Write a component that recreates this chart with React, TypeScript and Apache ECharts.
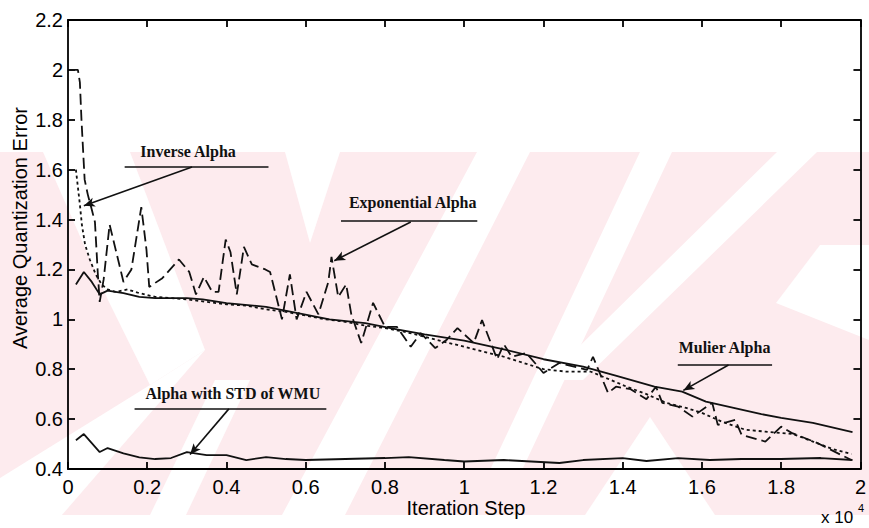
import React, { useEffect, useRef } from "react";
import * as echarts from "echarts";

// x values are in units of 10^4 iteration steps
const xTickLabels = ["0", "0.2", "0.4", "0.6", "0.8", "1", "1.2", "1.4", "1.6", "1.8", "2"];
const yTickLabels = ["0.4", "0.6", "0.8", "1", "1.2", "1.4", "1.6", "1.8", "2", "2.2"];

const inverseAlpha: number[][] = [
  [0.02, 1.6], [0.025, 1.53], [0.03, 1.46], [0.035, 1.38], [0.043, 1.3], [0.055, 1.24],
  [0.07, 1.18], [0.085, 1.14], [0.1, 1.12], [0.12, 1.11], [0.15, 1.12], [0.18, 1.105],
  [0.22, 1.09], [0.26, 1.085], [0.3, 1.08], [0.35, 1.07], [0.4, 1.06], [0.45, 1.055],
  [0.5, 1.04], [0.55, 1.03], [0.6, 1.015], [0.65, 1.0], [0.7, 0.99], [0.75, 0.975],
  [0.8, 0.965], [0.85, 0.95], [0.9, 0.93], [0.95, 0.91], [1.0, 0.89], [1.05, 0.87],
  [1.1, 0.85], [1.15, 0.825], [1.2, 0.8], [1.26, 0.79], [1.32, 0.79], [1.41, 0.73],
  [1.46, 0.7], [1.51, 0.665], [1.56, 0.645], [1.6, 0.625], [1.65, 0.59], [1.71, 0.557],
  [1.76, 0.55], [1.83, 0.54], [1.88, 0.51], [1.93, 0.48], [1.977, 0.46],
];

const exponentialAlpha: number[][] = [
  [0.005, 2.0], [0.025, 2.0], [0.03, 1.95], [0.034, 1.8], [0.038, 1.68], [0.042, 1.56],
  [0.05, 1.5], [0.06, 1.44], [0.068, 1.39], [0.075, 1.19], [0.08, 1.07], [0.09, 1.16],
  [0.105, 1.38], [0.14, 1.15], [0.16, 1.2], [0.185, 1.45], [0.198, 1.28], [0.205, 1.13],
  [0.238, 1.165], [0.28, 1.24], [0.306, 1.19], [0.323, 1.1], [0.343, 1.17], [0.364, 1.11],
  [0.38, 1.11], [0.398, 1.32], [0.41, 1.27], [0.426, 1.1], [0.444, 1.29], [0.464, 1.22],
  [0.498, 1.2], [0.51, 1.19], [0.54, 1.0], [0.56, 1.18], [0.577, 1.0], [0.602, 1.11],
  [0.632, 1.02], [0.657, 1.15], [0.665, 1.25], [0.682, 1.09], [0.702, 1.14], [0.715, 1.02],
  [0.74, 0.905], [0.77, 1.066], [0.8, 0.97], [0.83, 0.97], [0.865, 0.89], [0.89, 0.945],
  [0.927, 0.885], [0.955, 0.917], [0.983, 0.965], [1.024, 0.905], [1.045, 0.997],
  [1.083, 0.84], [1.1, 0.9], [1.12, 0.85], [1.157, 0.865], [1.2, 0.785], [1.24, 0.825],
  [1.31, 0.797], [1.325, 0.85], [1.363, 0.705], [1.383, 0.73], [1.42, 0.72], [1.46, 0.68],
  [1.484, 0.73], [1.5, 0.665], [1.54, 0.65], [1.576, 0.61], [1.626, 0.665], [1.64, 0.577],
  [1.684, 0.597], [1.7, 0.537], [1.76, 0.51], [1.8, 0.57], [1.826, 0.545], [1.89, 0.505],
  [1.977, 0.436],
];

const mulierAlpha: number[][] = [
  [0.02, 1.14], [0.04, 1.19], [0.06, 1.15], [0.08, 1.1], [0.1, 1.115], [0.12, 1.11],
  [0.14, 1.105], [0.18, 1.09], [0.22, 1.085], [0.3, 1.085], [0.34, 1.08], [0.4, 1.065],
  [0.5, 1.05], [0.58, 1.025], [0.66, 1.0], [0.75, 0.985], [0.83, 0.96], [0.9, 0.94],
  [1.0, 0.915], [1.1, 0.88], [1.2, 0.84], [1.3, 0.81], [1.38, 0.775], [1.48, 0.73],
  [1.55, 0.71], [1.61, 0.67], [1.68, 0.645], [1.75, 0.62], [1.8, 0.605], [1.88, 0.585],
  [1.98, 0.548],
];

const stdWmuAlpha: number[][] = [
  [0.02, 0.515], [0.04, 0.54], [0.08, 0.468], [0.1, 0.484], [0.14, 0.463], [0.18, 0.447],
  [0.22, 0.44], [0.26, 0.444], [0.3, 0.468], [0.35, 0.456], [0.4, 0.456], [0.45, 0.436],
  [0.5, 0.448], [0.55, 0.44], [0.6, 0.436], [0.7, 0.44], [0.8, 0.444], [0.86, 0.448],
  [0.95, 0.436], [1.0, 0.43], [1.1, 0.436], [1.24, 0.424], [1.3, 0.436], [1.4, 0.444],
  [1.46, 0.432], [1.54, 0.444], [1.62, 0.436], [1.7, 0.44], [1.8, 0.44], [1.9, 0.444],
  [1.98, 0.436],
];

// annotation: label text, label centre, underline [x1, x2, y], arrow from -> to (data coords)
const annotationLabels = ["Inverse Alpha", "Exponential Alpha", "Mulier Alpha", "Alpha with STD of WMU"];
const annotationTextPos: number[][] = [[0.303, 1.671], [0.87, 1.467], [1.657, 0.889], [0.416, 0.701]];
const annotationUnderline: number[][] = [[0.143, 0.506, 1.611], [0.689, 1.033, 1.394], [1.539, 1.777, 0.817], [0.168, 0.652, 0.641]];
const annotationArrow: number[][][] = [
  [[0.313, 1.611], [0.04, 1.455]],
  [[0.865, 1.39], [0.672, 1.235]],
  [[1.667, 0.817], [1.553, 0.715]],
  [[0.406, 0.641], [0.308, 0.458]],
];

// faint pink watermark of the scanned page (pixel polygons, decoration only)
const WM_PINK = "#fdebee";
const wmWhite: number[][][] = [
  [[43, 152], [130, 152], [205, 350], [150, 385], [108, 300]],
  [[150, 385], [205, 350], [62, 515], [0, 515], [0, 478]],
  [[285, 152], [340, 152], [310, 243]],
  [[215, 380], [250, 380], [186, 515], [150, 515]],
  [[477, 152], [530, 152], [345, 515], [282, 515]],
  [[640, 152], [672, 152], [522, 470], [490, 470]],
  [[777, 152], [817, 152], [583, 380], [545, 380]],
  [[776, 303], [820, 245], [869, 245], [869, 340]],
  [[650, 417], [715, 515], [585, 515]],
];

const FONT = "'Liberation Sans', Arial, sans-serif";
const SERIF = "'Liberation Serif', 'Times New Roman', serif";

export default function App() {
  const ref = useRef<HTMLDivElement>(null);

  useEffect(() => {
    if (!ref.current) return;
    const chart = echarts.init(ref.current, undefined, { renderer: "svg" });

    const axisCommon = {
      type: "value" as const,
      axisLine: { show: true, onZero: false, lineStyle: { color: "#000", width: 1.8 } },
      axisTick: { show: true, inside: true, length: 7, lineStyle: { color: "#000", width: 1.8 } },
      splitLine: { show: false },
    };

    const graphics: any[] = [
      { type: "rect", z: -10, silent: true, shape: { x: 0, y: 152, width: 869, height: 363 }, style: { fill: WM_PINK } },
      ...wmWhite.map((pts) => ({ type: "polygon", z: -9, silent: true, shape: { points: pts }, style: { fill: "#fff" } })),
      {
        type: "text", z: 10, x: 466, y: 508,
        style: { text: "Iteration Step", font: `20px ${FONT}`, fill: "#000", align: "center", verticalAlign: "middle" },
      },
      {
        type: "text", z: 10, x: 821, y: 517,
        style: { text: "x 10", font: `17px ${FONT}`, fill: "#000", align: "left", verticalAlign: "middle" },
      },
      {
        type: "text", z: 10, x: 858, y: 508,
        style: { text: "4", font: `11px ${FONT}`, fill: "#000", align: "left", verticalAlign: "middle" },
      },
      {
        type: "text", z: 10, x: 20, y: 228, rotation: Math.PI / 2,
        style: { text: "Average Quantization Error", font: `20px ${FONT}`, fill: "#000", align: "center", verticalAlign: "middle" },
      },
    ];

    const lineBase = { type: "line" as const, showSymbol: false, symbol: "none", silent: true, z: 3 };

    const markLineData: any[] = [];
    annotationUnderline.forEach((u) => {
      markLineData.push([
        { coord: [u[0], u[2]], symbol: "none" },
        { coord: [u[1], u[2]], symbol: "none" },
      ]);
    });
    annotationArrow.forEach((a) => {
      markLineData.push([
        { coord: a[0], symbol: "none" },
        { coord: a[1], symbol: "arrow", symbolSize: [7, 11] },
      ]);
    });

    chart.setOption({
      animation: false,
      backgroundColor: "#fff",
      grid: { left: 68, top: 20, right: 3, bottom: 59, containLabel: false },
      graphic: graphics,
      xAxis: [
        {
          ...axisCommon, position: "bottom", min: 0, max: 2, interval: 0.2,
          axisLabel: {
            color: "#000", fontSize: 20, fontFamily: FONT, margin: 8,
            formatter: (v: number) => xTickLabels[Math.round(v / 0.2)] ?? "",
          },
        },
        { ...axisCommon, position: "top", min: 0, max: 2, interval: 0.2, axisLabel: { show: false } },
      ],
      yAxis: [
        {
          ...axisCommon, position: "left", min: 0.4, max: 2.2, interval: 0.2,
          axisLabel: {
            color: "#000", fontSize: 20, fontFamily: FONT, margin: 5,
            formatter: (v: number) => yTickLabels[Math.round((v - 0.4) / 0.2)] ?? "",
          },
        },
        { ...axisCommon, position: "right", min: 0.4, max: 2.2, interval: 0.2, axisLabel: { show: false } },
      ],
      series: [
        { ...lineBase, name: "Inverse Alpha", data: inverseAlpha, lineStyle: { color: "#111", width: 1.8, type: [3, 3] } },
        { ...lineBase, name: "Exponential Alpha", data: exponentialAlpha, lineStyle: { color: "#111", width: 1.8, type: [11, 5] } },
        { ...lineBase, name: "Mulier Alpha", data: mulierAlpha, lineStyle: { color: "#111", width: 1.8, type: "solid" } },
        {
          ...lineBase, name: "Alpha with STD of WMU", data: stdWmuAlpha,
          lineStyle: { color: "#111", width: 1.8, type: "solid" },
          markLine: {
            silent: true, animation: false, symbol: ["none", "none"],
            label: { show: false },
            lineStyle: { color: "#111", width: 1.6, type: "solid" },
            emphasis: { disabled: true },
            data: markLineData,
          },
          markPoint: {
            silent: true, animation: false,
            data: annotationLabels.map((t, i) => ({
              coord: annotationTextPos[i], symbol: "circle", symbolSize: 0,
              label: {
                show: true, position: "inside", formatter: t, color: "#111",
                fontFamily: SERIF, fontWeight: "bold", fontSize: 16,
              },
            })),
          },
        },
      ],
    });

    return () => chart.dispose();
  }, []);

  return <div ref={ref} style={{ position: "absolute", left: 0, top: 0, width: 869, height: 528 }} />;
}
